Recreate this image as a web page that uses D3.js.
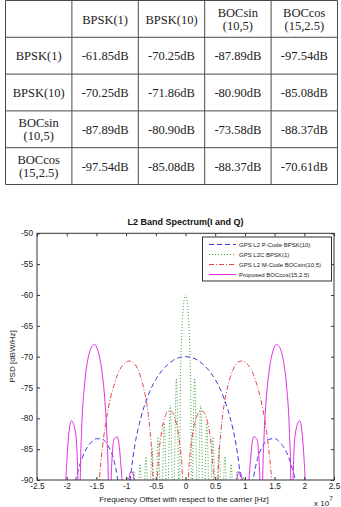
<!DOCTYPE html>
<html>
<head>
<meta charset="utf-8">
<script src="https://cdn.jsdelivr.net/npm/d3@7"></script>
<style>
  html, body { margin: 0; padding: 0; background: #fff; }
  svg { display: block; }
</style>
</head>
<body>
<div id="chart"></div>
<script>
// 表格数据
const tableHeaders = ['BPSK(1)', 'BPSK(10)', 'BOCsin\n(10,5)', 'BOCcos\n(15,2.5)'];
const tableRowLabels = ['BPSK(1)', 'BPSK(10)', 'BOCsin\n(10,5)', 'BOCcos\n(15,2.5)'];
const tableDb = [
  [-61.85, -70.25, -87.89, -97.54],
  [-70.25, -71.86, -80.90, -85.08],
  [-87.89, -80.90, -73.58, -88.37],
  [-97.54, -85.08, -88.37, -70.61]
];

// 频谱曲线（x: 频率 ×10^7 Hz, y: dBW/Hz），-90 以下被裁剪
const bpsk10Psd = [
  [-2.1, -110], [-2.046, -115], [-2.0, -102.8], [-1.9, -92.7], [-1.85, -90], [-1.8, -88.2],
  [-1.7, -85.5], [-1.6, -84.0], [-1.5, -83.3], [-1.4, -83.4], [-1.3, -84.5], [-1.2, -87.0],
  [-1.15, -89.4], [-1.1, -93.2], [-1.05, -101.8], [-1.023, -115], [-1.0, -102.8], [-0.95, -92.4],
  [-0.9, -87.5], [-0.85, -84.2], [-0.8, -81.8], [-0.7, -78.2], [-0.6, -75.6], [-0.5, -73.7],
  [-0.4, -72.3], [-0.3, -71.3], [-0.2, -70.55], [-0.1, -70.14], [0, -70],
  [0.1, -70.14], [0.2, -70.55], [0.3, -71.3], [0.4, -72.3], [0.5, -73.7], [0.6, -75.6],
  [0.7, -78.2], [0.8, -81.8], [0.85, -84.2], [0.9, -87.5], [0.95, -92.4], [1.0, -102.8],
  [1.023, -115], [1.05, -101.8], [1.1, -93.2], [1.15, -89.4], [1.2, -87.0], [1.3, -84.5],
  [1.4, -83.4], [1.5, -83.3], [1.6, -84.0], [1.7, -85.5], [1.8, -88.2], [1.85, -90],
  [1.9, -92.7], [2.0, -102.8], [2.046, -115], [2.1, -110]
];

const bpsk1Psd = [
  [-1.05, -100], [-1.023, -96], [-0.972, -89.5], [-0.921, -96], [-0.87, -88.5], [-0.818, -96],
  [-0.767, -87.4], [-0.716, -96], [-0.665, -86.2], [-0.614, -96], [-0.563, -84.8], [-0.512, -96],
  [-0.46, -83.0], [-0.409, -96], [-0.358, -80.8], [-0.307, -96], [-0.256, -77.9], [-0.205, -96],
  [-0.153, -73.5], [-0.102, -96], [-0.09, -77.5], [-0.075, -69.8], [-0.05, -63.7], [-0.025, -60.9],
  [0, -60],
  [0.025, -60.9], [0.05, -63.7], [0.075, -69.8], [0.09, -77.5], [0.102, -96], [0.153, -73.5],
  [0.205, -96], [0.256, -77.9], [0.307, -96], [0.358, -80.8], [0.409, -96], [0.46, -83.0],
  [0.512, -96], [0.563, -84.8], [0.614, -96], [0.665, -86.2], [0.716, -96], [0.767, -87.4],
  [0.818, -96], [0.87, -88.5], [0.921, -96], [0.972, -89.5], [1.023, -96], [1.05, -100]
];

const bocSin105Psd = [
  [-2.1, -110], [-1.9, -110], [-1.8, -95.7], [-1.7, -93.2], [-1.6, -96.9], [-1.5345, -115],
  [-1.5, -99], [-1.45, -90.0], [-1.4, -84.9], [-1.3, -78.4], [-1.2, -74.5], [-1.1, -72.0],
  [-1.05, -71.3], [-1.0, -70.9], [-0.95, -70.7], [-0.9, -70.8], [-0.8, -72.1], [-0.7, -75.3],
  [-0.65, -77.8], [-0.6, -81.8], [-0.55, -89.3], [-0.5115, -115], [-0.48, -91.7], [-0.45, -86.3],
  [-0.4, -82.0], [-0.35, -79.9], [-0.3, -78.9], [-0.25, -78.8], [-0.2, -79.4], [-0.15, -81.0],
  [-0.1, -83.9], [-0.05, -89.6], [0, -110],
  [0.05, -89.6], [0.1, -83.9], [0.15, -81.0], [0.2, -79.4], [0.25, -78.8], [0.3, -78.9],
  [0.35, -79.9], [0.4, -82.0], [0.45, -86.3], [0.48, -91.7], [0.5115, -115], [0.55, -89.3],
  [0.6, -81.8], [0.65, -77.8], [0.7, -75.3], [0.8, -72.1], [0.9, -70.8], [0.95, -70.7],
  [1.0, -70.9], [1.05, -71.3], [1.1, -72.0], [1.2, -74.5], [1.3, -78.4], [1.4, -84.9],
  [1.45, -90.0], [1.5, -99], [1.5345, -115], [1.6, -96.9], [1.7, -93.2], [1.8, -95.7],
  [1.9, -110], [2.1, -110]
];

const bocCos1525Psd = [
  [-2.1, -110], [-2.046, -115], [-2.03, -96.5], [-2.0, -87.3], [-1.92, -80.4], [-1.85, -82.4],
  [-1.81, -90.2], [-1.79, -115], [-1.77, -88.8], [-1.75, -82.3], [-1.7, -74.6], [-1.65, -70.8],
  [-1.6, -68.8], [-1.55, -68.1], [-1.53, -68.0], [-1.5, -68.4], [-1.45, -69.9], [-1.4, -72.9],
  [-1.35, -78.1], [-1.32, -83.5], [-1.3, -89.8], [-1.279, -115], [-1.25, -89.2], [-1.2, -83.3],
  [-1.15, -83.0], [-1.1, -86.1], [-1.05, -95.2], [-1.023, -115], [-1.0, -97.7], [-0.95, -89.8],
  [-0.92, -88.7], [-0.9, -88.7], [-0.85, -91.1], [-0.8, -110],
  [0.8, -110], [0.85, -91.1], [0.9, -88.7], [0.92, -88.7], [0.95, -89.8], [1.0, -97.7],
  [1.023, -115], [1.05, -95.2], [1.1, -86.1], [1.15, -83.0], [1.2, -83.3], [1.25, -89.2],
  [1.279, -115], [1.3, -89.8], [1.32, -83.5], [1.35, -78.1], [1.4, -72.9], [1.45, -69.9],
  [1.5, -68.4], [1.53, -68.0], [1.55, -68.1], [1.6, -68.8], [1.65, -70.8], [1.7, -74.6],
  [1.75, -82.3], [1.77, -88.8], [1.79, -115], [1.81, -90.2], [1.85, -82.4], [1.92, -80.4],
  [2.0, -87.3], [2.03, -96.5], [2.046, -115], [2.1, -110]
];

const seriesNames = [
  'GPS L2 P-Code BPSK(10)',
  'GPS L2C BPSK(1)',
  'GPS L2 M-Code BOCsin(10,5)',
  'Proposed BOCcos(15,2.5)'
];
const seriesData = [bpsk10Psd, bpsk1Psd, bocSin105Psd, bocCos1525Psd];
const seriesColors = ['#3c3ce0', '#3e9e3e', '#e04848', '#e02ee0'];
const seriesDashes = ['5,3', '1,2', '5,2,1,2', null];

const xTicks = [-2.5, -2, -1.5, -1, -0.5, 0, 0.5, 1, 1.5, 2, 2.5];
const yTicks = [-90, -85, -80, -75, -70, -65, -60, -55, -50];

const width = 341;
const height = 507;

const svg = d3.select('#chart')
  .append('svg')
  .attr('width', width)
  .attr('height', height);

svg.append('rect')
  .attr('width', width)
  .attr('height', height)
  .attr('fill', '#fff');

/**
 * 绘制上方的表格
 */
function drawTable() {
  const g = svg.append('g').attr('class', 'table');
  const colScale = d3.scaleBand().domain(d3.range(5)).range([5.5, 337.5]);
  const rowScale = d3.scaleBand().domain(d3.range(5)).range([0.5, 184.5]);
  const serif = '"Liberation Serif", "Times New Roman", serif';

  // 网格线
  rowScale.domain().concat([5]).forEach(i => {
    const y = i < 5 ? rowScale(i) : rowScale.range()[1];
    g.append('line')
      .attr('x1', colScale.range()[0]).attr('x2', colScale.range()[1])
      .attr('y1', y).attr('y2', y)
      .attr('stroke', '#4a4a4a').attr('stroke-width', 1);
  });
  colScale.domain().concat([5]).forEach(i => {
    const x = i < 5 ? colScale(i) : colScale.range()[1];
    g.append('line')
      .attr('x1', x).attr('x2', x)
      .attr('y1', rowScale.range()[0]).attr('y2', rowScale.range()[1])
      .attr('stroke', '#4a4a4a').attr('stroke-width', 1);
  });

  const cellText = (col, row, label) => {
    const cx = colScale(col) + colScale.bandwidth() / 2;
    const cy = rowScale(row) + rowScale.bandwidth() / 2;
    const lines = label.split('\n');
    const t = g.append('text')
      .attr('text-anchor', 'middle')
      .attr('font-family', serif)
      .attr('font-size', 12.5)
      .attr('fill', '#222');
    if (lines.length === 1) {
      t.append('tspan').attr('x', cx).attr('y', cy + 4.6).text(lines[0]);
    } else {
      t.append('tspan').attr('x', cx).attr('y', cy - 2.3).text(lines[0]);
      t.append('tspan').attr('x', cx).attr('y', cy + 11).text(lines[1]);
    }
  };

  tableHeaders.forEach((h, i) => cellText(i + 1, 0, h));
  tableRowLabels.forEach((r, i) => {
    cellText(0, i + 1, r);
    tableDb[i].forEach((v, j) => cellText(j + 1, i + 1, v.toFixed(2) + 'dB'));
  });
}

/**
 * 绘制频谱图
 */
function drawSpectrum() {
  const left = 37, right = 334, top = 233.3, bottom = 480;
  const sans = '"Liberation Sans", Arial, sans-serif';

  const x = d3.scaleLinear().domain([-2.5, 2.5]).range([left, right]);
  const y = d3.scaleLinear().domain([-90, -50]).range([bottom, top]);

  const g = svg.append('g').attr('class', 'spectrum');

  svg.append('clipPath')
    .attr('id', 'plot-clip')
    .append('rect')
    .attr('x', left).attr('y', top)
    .attr('width', right - left).attr('height', bottom - top);

  // 曲线
  const line = d3.line()
    .x(d => x(d[0]))
    .y(d => y(d[1]))
    .curve(d3.curveMonotoneX);

  const curves = g.append('g').attr('clip-path', 'url(#plot-clip)');
  seriesData.forEach((data, i) => {
    curves.append('path')
      .datum(data)
      .attr('d', line)
      .attr('fill', 'none')
      .attr('stroke', seriesColors[i])
      .attr('stroke-width', 1)
      .attr('stroke-dasharray', seriesDashes[i]);
  });

  // 坐标轴
  const fmt = d => String(d);
  const styleAxis = sel => {
    sel.select('.domain').remove();
    sel.selectAll('.tick line').attr('stroke', '#333');
    sel.selectAll('.tick text')
      .attr('fill', '#222')
      .attr('font-family', sans)
      .attr('font-size', 8.3);
  };

  g.append('g')
    .attr('transform', `translate(0,${bottom})`)
    .call(d3.axisBottom(x).tickValues(xTicks).tickFormat(fmt).tickSizeInner(-3).tickSizeOuter(0).tickPadding(3))
    .call(styleAxis);
  g.append('g')
    .attr('transform', `translate(0,${top})`)
    .call(d3.axisTop(x).tickValues(xTicks).tickFormat('').tickSizeInner(-3).tickSizeOuter(0))
    .call(styleAxis);
  g.append('g')
    .attr('transform', `translate(${left},0)`)
    .call(d3.axisLeft(y).tickValues(yTicks).tickFormat(fmt).tickSizeInner(-3).tickSizeOuter(0).tickPadding(4))
    .call(styleAxis);
  g.append('g')
    .attr('transform', `translate(${right},0)`)
    .call(d3.axisRight(y).tickValues(yTicks).tickFormat('').tickSizeInner(-3).tickSizeOuter(0))
    .call(styleAxis);

  g.append('rect')
    .attr('x', left).attr('y', top)
    .attr('width', right - left).attr('height', bottom - top)
    .attr('fill', 'none')
    .attr('stroke', '#333')
    .attr('stroke-width', 1);

  // 标题和轴标签
  g.append('text')
    .attr('x', (left + right) / 2).attr('y', 225)
    .attr('text-anchor', 'middle')
    .attr('font-family', sans).attr('font-weight', 'bold').attr('font-size', 9)
    .attr('fill', '#111')
    .text('L2 Band Spectrum(I and Q)');

  g.append('text')
    .attr('x', 184).attr('y', 501.5)
    .attr('text-anchor', 'middle')
    .attr('font-family', sans).attr('font-size', 8)
    .attr('fill', '#222')
    .text('Frequency Offset with respect to the carrier [Hz]');

  const expo = g.append('text')
    .attr('x', 314).attr('y', 505.5)
    .attr('font-family', sans).attr('font-size', 8)
    .attr('fill', '#222');
  expo.append('tspan').text('x 10');
  expo.append('tspan').attr('dy', -5).attr('font-size', 6.5).text('7');

  g.append('text')
    .attr('transform', `translate(14.5,356.5) rotate(-90)`)
    .attr('text-anchor', 'middle')
    .attr('font-family', sans).attr('font-size', 8)
    .attr('fill', '#222')
    .text('PSD [dBW/Hz]');

  // 图例
  const legend = g.append('g').attr('class', 'legend');
  legend.append('rect')
    .attr('x', 202.5).attr('y', 237)
    .attr('width', 129).attr('height', 44)
    .attr('fill', '#fff')
    .attr('stroke', '#333')
    .attr('stroke-width', 1);

  seriesNames.forEach((name, i) => {
    const ly = 244.5 + i * 10;
    legend.append('line')
      .attr('x1', 209).attr('x2', 236)
      .attr('y1', ly).attr('y2', ly)
      .attr('stroke', seriesColors[i])
      .attr('stroke-width', 1)
      .attr('stroke-dasharray', seriesDashes[i]);
    legend.append('text')
      .attr('x', 239).attr('y', ly + 2.2)
      .attr('font-family', sans).attr('font-size', 6)
      .attr('fill', '#222')
      .text(name);
  });
}

drawTable();
drawSpectrum();
</script>
</body>
</html>
